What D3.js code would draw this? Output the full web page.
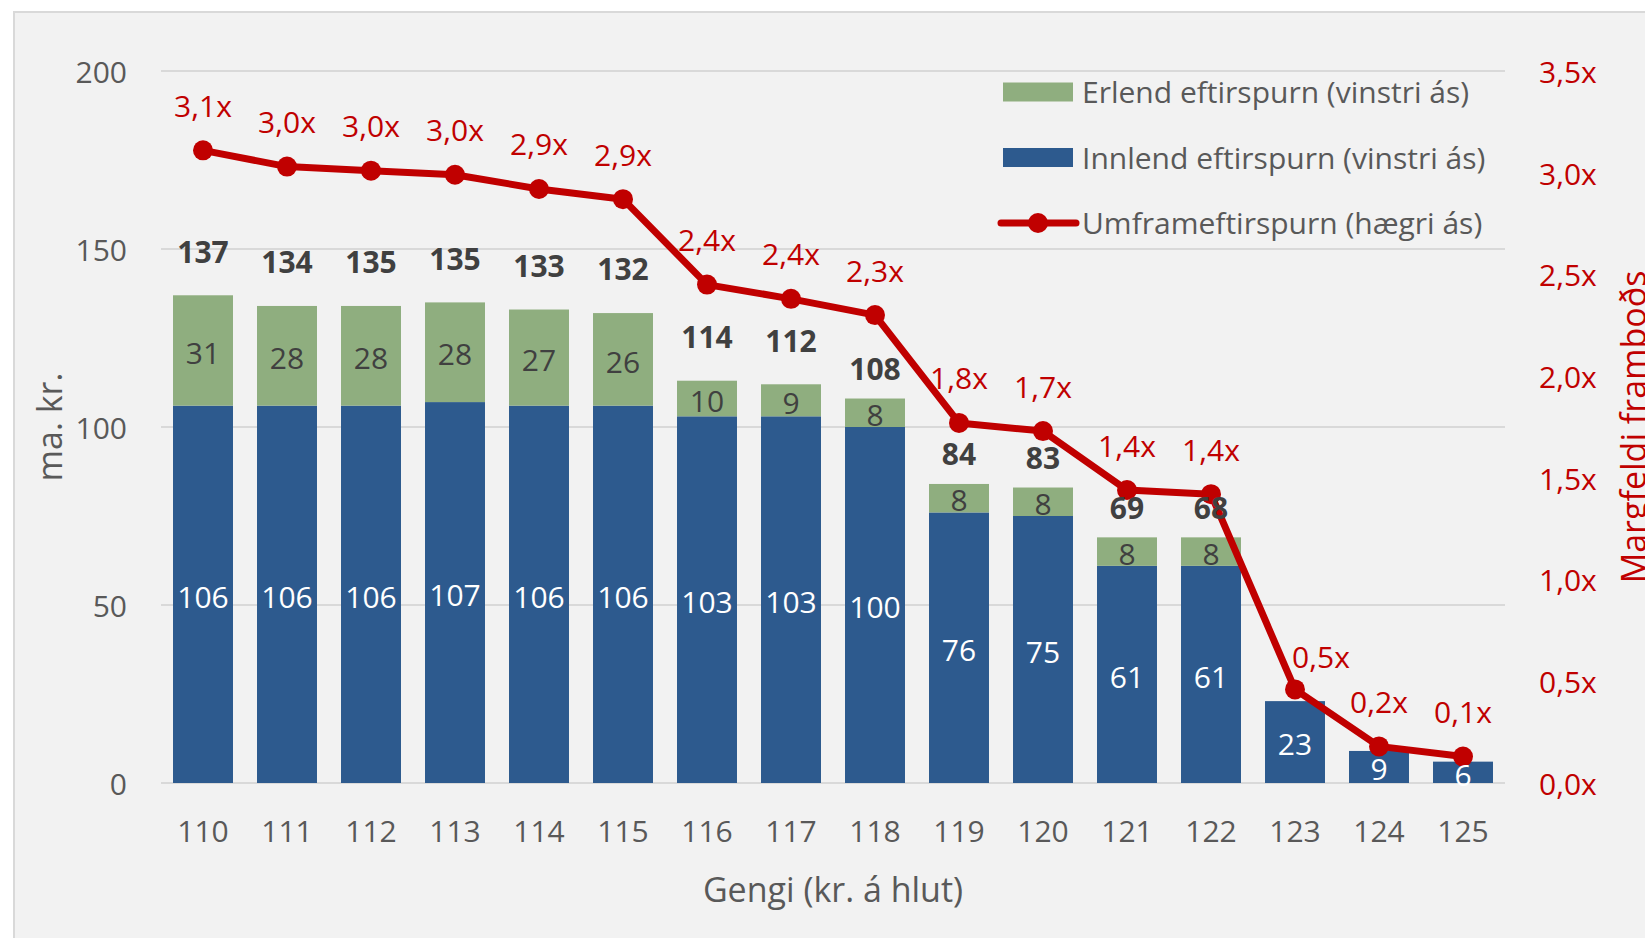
<!DOCTYPE html>
<html>
<head>
<meta charset="utf-8">
<script src="https://cdn.jsdelivr.net/npm/d3@7"></script>
<style>
  html, body { margin: 0; padding: 0; background: #ffffff; }
  text { font-family: "Segoe UI", "Open Sans", sans-serif; }
</style>
</head>
<body>
<svg id="chart" width="1645" height="938"></svg>
<script>
// gengi (kr. á hlut)
var gengi = ['110','111','112','113','114','115','116','117','118','119','120','121','122','123','124','125'];
// innlend eftirspurn, ma. kr.
var innlend = [106,106,106,107,106,106,103,103,100,76,75,61,61,23,9,6];
// erlend eftirspurn, ma. kr.
var erlend = [31,28,28,28,27,26,10,9,8,8,8,8,8,0,0,0];
// samtals (label above bars)
var samtals = [137,134,135,135,133,132,114,112,108,84,83,69,68,null,null,null];
// umframeftirspurn, margfeldi (hægri ás)
var margfeldi = [3.11,3.03,3.01,2.99,2.92,2.87,2.45,2.38,2.30,1.77,1.73,1.44,1.42,0.46,0.18,0.13];
var margfeldiLabels = ['3,1x','3,0x','3,0x','3,0x','2,9x','2,9x','2,4x','2,4x','2,3x','1,8x','1,7x','1,4x','1,4x','0,5x','0,2x','0,1x'];
var leftTicks = [0,50,100,150,200];
var rightTicks = [0,0.5,1,1.5,2,2.5,3,3.5];
var legendItems = [
  {name:'Erlend eftirspurn (vinstri ás)', type:'bar'},
  {name:'Innlend eftirspurn (vinstri ás)', type:'bar'},
  {name:'Umframeftirspurn (hægri ás)', type:'line'}
];

(function(){
  'use strict';
  var blue = '#2d5a8e', green = '#8fae7f', red = '#c00000',
      grey = '#595959', dark = '#404040', fs = 30, fsTitle = 34;
  var legendColors = [green, blue, red];
  var pLeft = 161, pRight = 1505, pTop = 71, pBottom = 783;

  var svg = d3.select('#chart');

  // chart area background
  svg.append('rect')
    .attr('x',14).attr('y',12).attr('width',1700).attr('height',1000)
    .style('fill','#f2f2f2').style('stroke','#d9d9d9').style('stroke-width',2);

  var x = d3.scaleBand().domain(gengi).range([pLeft,pRight]).paddingInner(0.286).paddingOuter(0.143);
  var yL = d3.scaleLinear().domain([0,200]).range([pBottom,pTop]);
  var yR = d3.scaleLinear().domain([0,3.5]).range([pBottom,pTop]);
  var cx = function(d){ return x(d)+x.bandwidth()/2; };

  // gridlines
  svg.append('g').selectAll('line').data(leftTicks).enter().append('line')
    .attr('x1',pLeft).attr('x2',pRight)
    .attr('y1',d=>yL(d)).attr('y2',d=>yL(d))
    .style('stroke','#d9d9d9').style('stroke-width',2);

  // axes
  var axL = svg.append('g').attr('transform','translate('+pLeft+',0)')
    .call(d3.axisLeft(yL).tickValues(leftTicks).tickSize(0).tickPadding(34));
  var axR = svg.append('g').attr('transform','translate('+pRight+',0)')
    .call(d3.axisRight(yR).tickValues(rightTicks).tickSize(0).tickPadding(34)
      .tickFormat(d=>d3.format('.1f')(d).replace('.',',')+'x'));
  var axB = svg.append('g').attr('transform','translate(0,'+pBottom+')')
    .call(d3.axisBottom(x).tickSize(0).tickPadding(38));
  [axL,axR,axB].forEach(function(a){
    a.select('.domain').remove();
    a.selectAll('text').style('font-size',fs+'px')
      .style('font-family','"Segoe UI", "Open Sans", sans-serif').style('fill',grey);
  });
  axR.selectAll('text').style('fill',red);
  axL.selectAll('text').attr('dy','0.38em');
  axR.selectAll('text').attr('dy','0.38em');

  // axis titles
  svg.append('text').text('ma. kr.')
    .attr('transform','translate(62,427) rotate(-90)')
    .style('text-anchor','middle').style('font-size',fsTitle+'px').style('fill',grey);
  svg.append('text').text('Gengi (kr. á hlut)')
    .attr('x',(pLeft+pRight)/2).attr('y',902)
    .style('text-anchor','middle').style('font-size',fsTitle+'px').style('fill',grey);
  svg.append('text').text('Margfeldi framboðs')
    .attr('transform','translate(1646,427) rotate(-90)')
    .style('text-anchor','middle').style('font-size',fsTitle+'px').style('fill',red);

  // stacked bars
  var bars = svg.append('g');
  bars.selectAll('.inn').data(gengi).enter().append('rect')
    .attr('x',d=>x(d)).attr('width',x.bandwidth())
    .attr('y',(d,i)=>yL(innlend[i])).attr('height',(d,i)=>yL(0)-yL(innlend[i]))
    .style('fill',blue);
  bars.selectAll('.erl').data(gengi).enter().append('rect')
    .attr('x',d=>x(d)).attr('width',x.bandwidth())
    .attr('y',(d,i)=>yL(innlend[i]+erlend[i]))
    .attr('height',(d,i)=>yL(innlend[i])-yL(innlend[i]+erlend[i]))
    .style('fill',green);

  // line
  var line = d3.line().x((d,i)=>cx(gengi[i])).y(d=>yR(d));
  svg.append('path').datum(margfeldi).attr('d',line)
    .style('fill','none').style('stroke',red).style('stroke-width',7).style('stroke-linejoin','round');
  svg.append('g').selectAll('circle').data(margfeldi).enter().append('circle')
    .attr('cx',(d,i)=>cx(gengi[i])).attr('cy',d=>yR(d)).attr('r',10)
    .style('fill',red);

  // data labels
  var labels = svg.append('g').style('font-size',fs+'px').style('text-anchor','middle');
  labels.selectAll('.li').data(gengi).enter().append('text')
    .text((d,i)=>innlend[i])
    .attr('x',cx)
    .attr('y',(d,i)=>(yL(0)+yL(innlend[i]))/2).attr('dy','0.44em')
    .style('fill','#ffffff');
  labels.selectAll('.le').data(gengi.filter((d,i)=>erlend[i]>0)).enter().append('text')
    .text(d=>erlend[gengi.indexOf(d)])
    .attr('x',cx)
    .attr('y',function(d){ var i=gengi.indexOf(d); return (yL(innlend[i])+yL(innlend[i]+erlend[i]))/2; })
    .attr('dy','0.44em').style('fill',dark);
  labels.selectAll('.lt').data(gengi.filter((d,i)=>samtals[i]!==null)).enter().append('text')
    .text(d=>samtals[gengi.indexOf(d)])
    .attr('x',cx)
    .attr('y',function(d){ var i=gengi.indexOf(d); return yL(innlend[i]+erlend[i])-(i<8?44:30); })
    .attr('dy','0.38em').style('fill',dark).style('font-weight','bold');
  labels.selectAll('.lm').data(gengi).enter().append('text')
    .text((d,i)=>margfeldiLabels[i])
    .attr('x',(d,i)=>cx(d)+(i===13?26:0))
    .attr('y',(d,i)=>yR(margfeldi[i])-(i===13?32:44))
    .attr('dy','0.35em').style('fill',red);

  // legend
  svg.append('g').selectAll('g').data(legendItems).enter().append('g')
    .attr('transform',(d,i)=>'translate(0,'+(92+i*65.5)+')')
    .each(function(d,i){
      var g = d3.select(this);
      if(d.type==='bar'){
        g.append('rect').attr('x',1003).attr('y',-9.5).attr('width',70).attr('height',19)
          .style('fill',legendColors[i]);
      } else {
        g.append('line').attr('x1',1001).attr('x2',1076)
          .style('stroke',legendColors[i]).style('stroke-width',7).style('stroke-linecap','round');
        g.append('circle').attr('cx',1038).attr('r',10).style('fill',legendColors[i]);
      }
      g.append('text').text(d.name).attr('x',1082).attr('dy','0.38em')
        .style('font-size',fs+'px').style('fill',grey);
    });
})();
</script>
</body>
</html>
